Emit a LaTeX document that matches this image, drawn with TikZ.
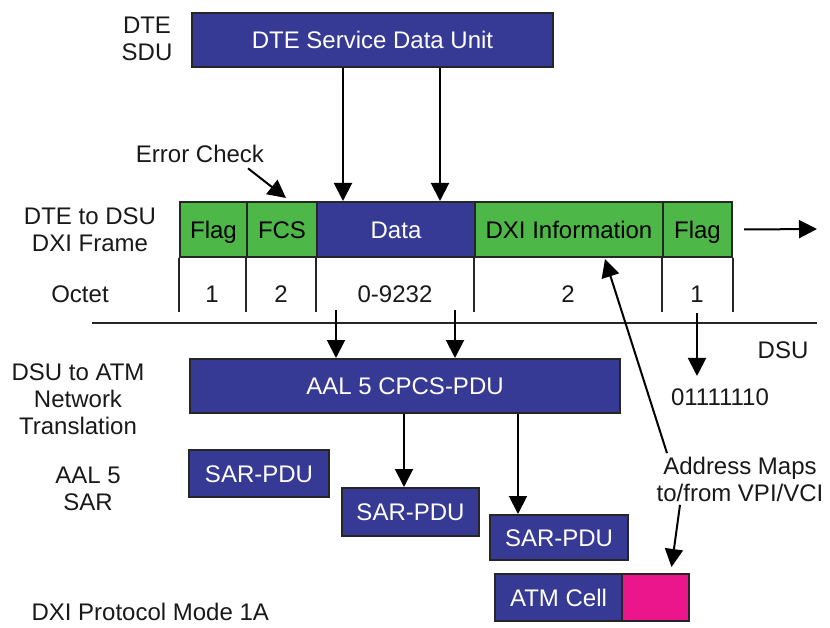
\documentclass[tikz,border=0pt]{standalone}
\usepackage{fontspec}
\setmainfont{Liberation Sans}
\usetikzlibrary{arrows.meta,positioning,calc}
\definecolor{dteblue}{RGB}{54,58,148}
\definecolor{dxigreen}{RGB}{77,184,72}
\definecolor{hdrpink}{RGB}{236,22,140}

\begin{document}
\begin{tikzpicture}[
    x=1pt, y=-1pt,
    font=\fontsize{24}{27}\selectfont,
    blk/.style={draw=black!85, line width=2pt, anchor=north west, inner sep=0pt, text height=17.3pt, text depth=0pt, fill=dteblue, text=white},
    grn/.style={blk, fill=dxigreen, text=black},
    wire/.style={line width=2pt, -{Triangle[length=18pt,width=18pt]}},
    tick/.style={line width=2pt, black!85},
    lbl/.style={align=center, text=black!90}
  ]
  \useasboundingbox (0,0) rectangle (830,628);

  % top unit
  \node[blk, minimum width=361pt, minimum height=54pt] (sdu) at (191,12) {DTE Service Data Unit};
  \node[lbl] (sdulbl) at (147,39) {DTE\\SDU};

  % DXI frame
  \node[grn, minimum width=67pt, minimum height=55pt] (f1) at (179,201) {Flag};
  \node[grn, minimum width=70pt, minimum height=55pt] (fcs) at (246,201) {FCS};
  \node[blk, minimum width=158pt, minimum height=55pt] (data) at (316,201) {Data};
  \node[grn, minimum width=188pt, minimum height=55pt] (dxi) at (474,201) {DXI Information};
  \node[grn, minimum width=69pt, minimum height=55pt] (f2) at (662,201) {Flag};
  \node[lbl] (framelbl) at (90,230) {DTE to DSU\\DXI Frame};

  \foreach \n in {f1,fcs,data,dxi,f2}
    \draw[tick] (\n.south west) -- ++(0,54);
  \draw[tick] (f2.south east) -- ++(0,54);

  % octets
  \node[lbl] (octlbl) at (80,294) {Octet};
  \node[lbl] (o1) at (212,294) {1};
  \node[lbl] (o2) at (281,294) {2};
  \node[lbl] (o3) at (395,294) {0-9232};
  \node[lbl] (o4) at (568,294) {2};
  \node[lbl] (o5) at (697,294) {1};

  \node[lbl] (err) at (200,154) {Error Check};
  \draw[wire] ([xshift=48pt,yshift=-2pt]err.south) -- ([xshift=4pt,yshift=3pt]fcs.north);

  \coordinate (c1) at (343,0);
  \coordinate (c2) at (440,0);
  \draw[wire] (sdu.south -| c1) -- (data.north -| c1);
  \draw[wire] (sdu.south -| c2) -- (data.north -| c2);

  \coordinate (out) at (817,229);
  \draw[wire] ([xshift=11pt]f2.east) -- (out);

  % DSU boundary
  \coordinate (dsuL) at (92,323);
  \coordinate (dsuR) at (817,323);
  \draw[tick] (dsuL) -- (dsuR);
  \node[lbl] (dsulbl) at (783,350) {DSU};

  % ATM side
  \node[blk, minimum width=430pt, minimum height=54pt] (cpcs) at (189,358) {AAL 5 CPCS-PDU};
  \node[lbl] (netlbl) at (78,399) {DSU to ATM\\Network\\Translation};

  \coordinate (t1) at (336,310);
  \coordinate (t2) at (455,310);
  \draw[wire] (t1) -- (cpcs.north -| t1);
  \draw[wire] (t2) -- (cpcs.north -| t2);

  \node[lbl] (bits) at (720,397) {01111110};
  \coordinate (t3) at (697,313);
  \draw[wire, shorten >=9pt] (t3) -- (bits.north -| t3);

  \node[blk, minimum width=140pt, minimum height=47pt] (sar1) at (188,449) {SAR-PDU};
  \node[blk, minimum width=137pt, minimum height=48pt] (sar2) at (341,487) {SAR-PDU};
  \node[blk, minimum width=138pt, minimum height=45pt] (sar3) at (489,514) {SAR-PDU};
  \node[lbl] (sarlbl) at (88,489) {AAL 5\\SAR};

  \coordinate (c3) at (404,0);
  \coordinate (c4) at (518,0);
  \draw[wire] (cpcs.south -| c3) -- (sar2.north -| c3);
  \draw[wire] (cpcs.south -| c4) -- (sar3.north -| c4);

  \node[blk, minimum width=127pt, minimum height=47pt] (cell) at (494,573) {ATM Cell};
  \node[blk, fill=hdrpink, minimum width=67pt, minimum height=47pt] (hdr) at (621,573) {};

  \node[lbl] (addr) at (740,479) {Address Maps\\to/from VPI/VCI};
  \draw[wire] ([xshift=-73pt]addr.north) -- ([xshift=36pt,yshift=-1pt]dxi.south);
  \draw[wire] ([xshift=-60pt]addr.south) -- ([xshift=16pt,yshift=6pt]hdr.north);

  \node[lbl, anchor=west] (mode) at (28,612) {DXI Protocol Mode 1A};
\end{tikzpicture}
\end{document}
